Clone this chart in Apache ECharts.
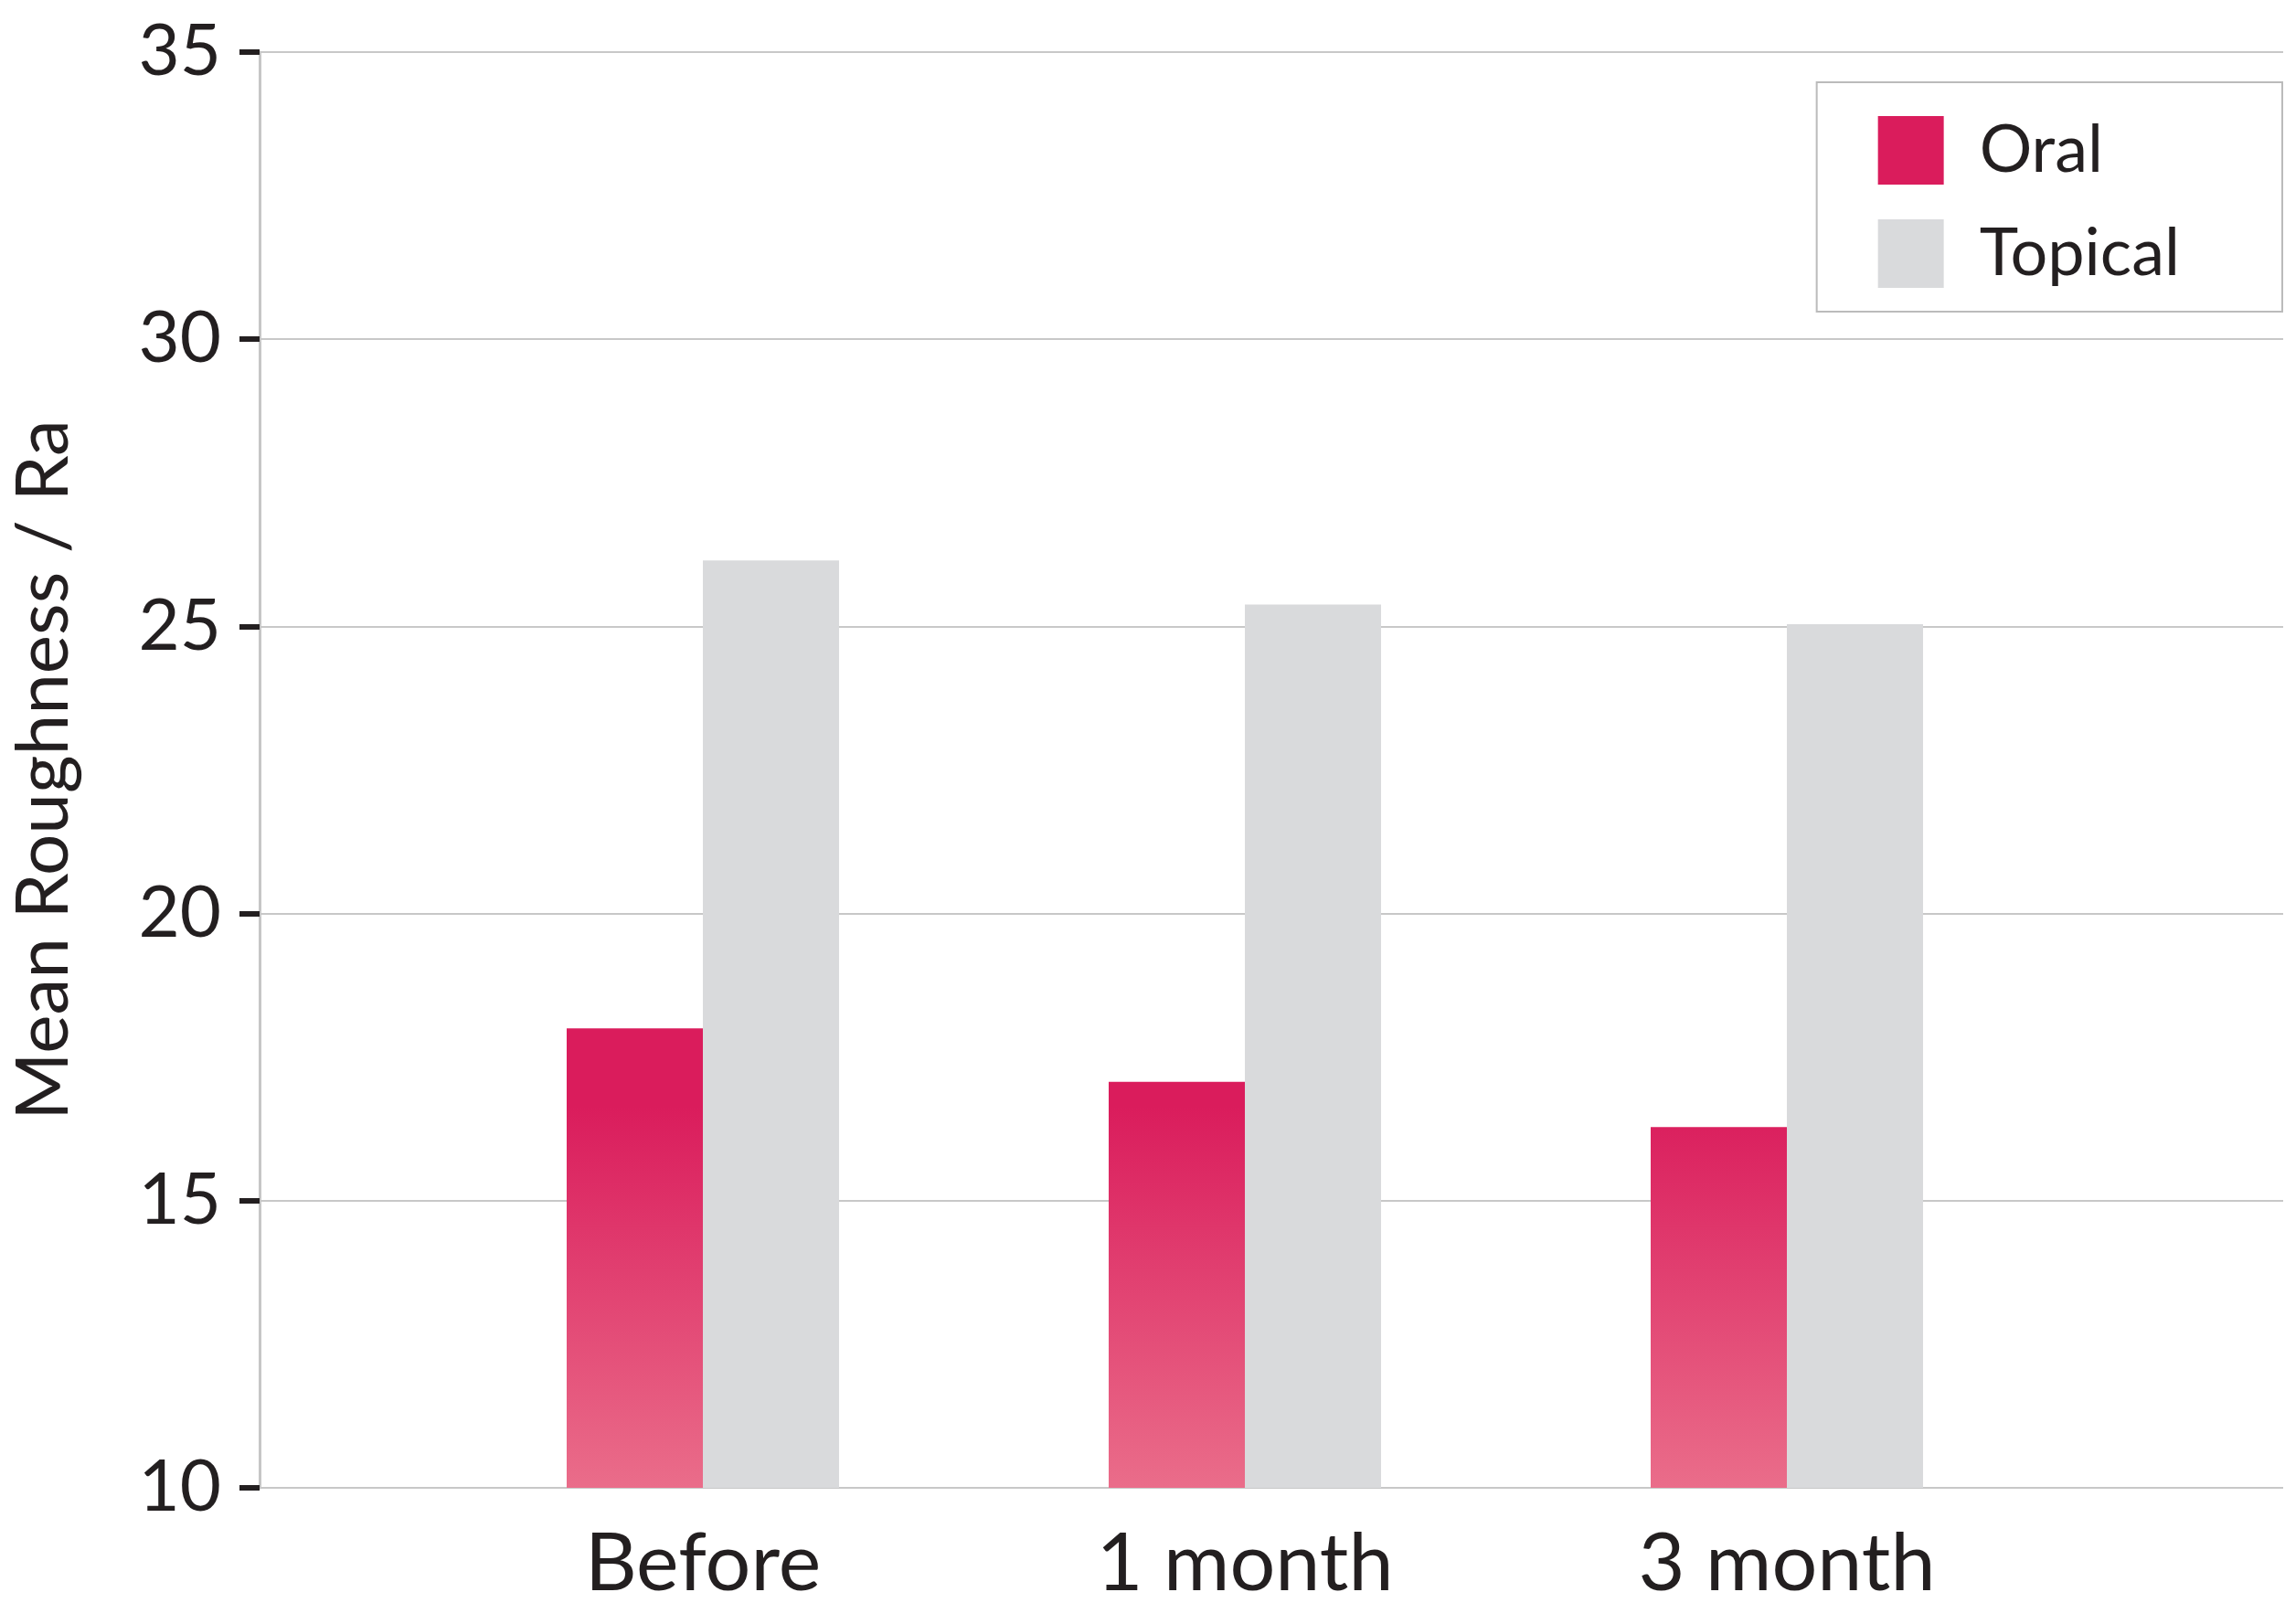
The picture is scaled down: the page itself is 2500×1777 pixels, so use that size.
<!DOCTYPE html>
<html>
<head>
<meta charset="utf-8">
<script src="https://cdn.jsdelivr.net/npm/echarts@6/dist/echarts.min.js"></script>
<style>html,body{margin:0;padding:0;background:#fff;}#c{width:2500px;height:1777px;}</style>
</head>
<body>
<div id="c"></div>
<script>
var categories = ['Before', '1 month', '3 month'];
var oralValues = [18.0, 17.07, 16.28];
var topicalValues = [26.15, 25.38, 25.04];
var seriesNames = ['Oral', 'Topical'];
var yTicks = [10, 15, 20, 25, 30, 35];

var FONT = 'Lato';
var TXT = '#231f20';
var chart = echarts.init(document.getElementById('c'), null, {renderer: 'canvas'});
var pinkGrad = new echarts.graphic.LinearGradient(0, 1210, 0, 1628, [
  {offset: 0, color: '#DA1C5C'},
  {offset: 1, color: '#EA6D8A'}
], true);

chart.setOption({
  backgroundColor: '#ffffff',
  animation: false,
  textStyle: {fontFamily: FONT},
  grid: [
    {left: 273, right: 2, top: 57, bottom: 149},
    {left: 472.5, right: 248.5, top: 57, bottom: 149}
  ],
  legend: {
    orient: 'vertical',
    right: 3,
    top: 90,
    padding: [37, 112, 26, 67],
    itemWidth: 72,
    itemHeight: 75,
    itemGap: 38,
    borderColor: '#bbbbbb',
    borderWidth: 2,
    icon: 'rect',
    textStyle: {fontFamily: FONT, fontSize: 72, color: TXT, padding: [0, 0, 0, 34]},
    data: [
      {name: seriesNames[0], itemStyle: {color: '#DA1C5C'}},
      {name: seriesNames[1], itemStyle: {color: '#D9DADC'}}
    ]
  },
  xAxis: [
    {gridIndex: 0, type: 'category', data: [''], show: false},
    {
      gridIndex: 1, type: 'category', data: categories,
      axisLine: {show: false}, axisTick: {show: false},
      axisLabel: {fontFamily: FONT, fontSize: 88, color: TXT, margin: 40}
    }
  ],
  yAxis: [
    {
      gridIndex: 0, type: 'value', min: yTicks[0], max: yTicks[yTicks.length - 1], interval: 5,
      name: 'Mean Roughness / Ra', nameLocation: 'middle', nameGap: 196,
      nameTextStyle: {fontFamily: FONT, fontSize: 80, color: TXT},
      axisLine: {show: true, lineStyle: {color: '#c6c6c6', width: 3}},
      axisTick: {show: true, length: 22, lineStyle: {color: TXT, width: 6}},
      axisLabel: {fontFamily: FONT, fontSize: 78, color: TXT, margin: 42, padding: [0, 0, 24, 0]},
      splitLine: {show: true, lineStyle: {color: '#c8c8c8', width: 2}}
    },
    {gridIndex: 1, type: 'value', min: yTicks[0], max: yTicks[yTicks.length - 1], interval: 5, show: false, splitLine: {show: false}}
  ],
  series: [
    {
      name: seriesNames[0], type: 'bar', xAxisIndex: 1, yAxisIndex: 1,
      data: oralValues, barWidth: 149, barGap: '0%',
      itemStyle: {color: pinkGrad}
    },
    {
      name: seriesNames[1], type: 'bar', xAxisIndex: 1, yAxisIndex: 1,
      data: topicalValues, barWidth: 149, barGap: '0%',
      itemStyle: {color: '#D9DADC'}
    }
  ]
});
</script>
</body>
</html>
